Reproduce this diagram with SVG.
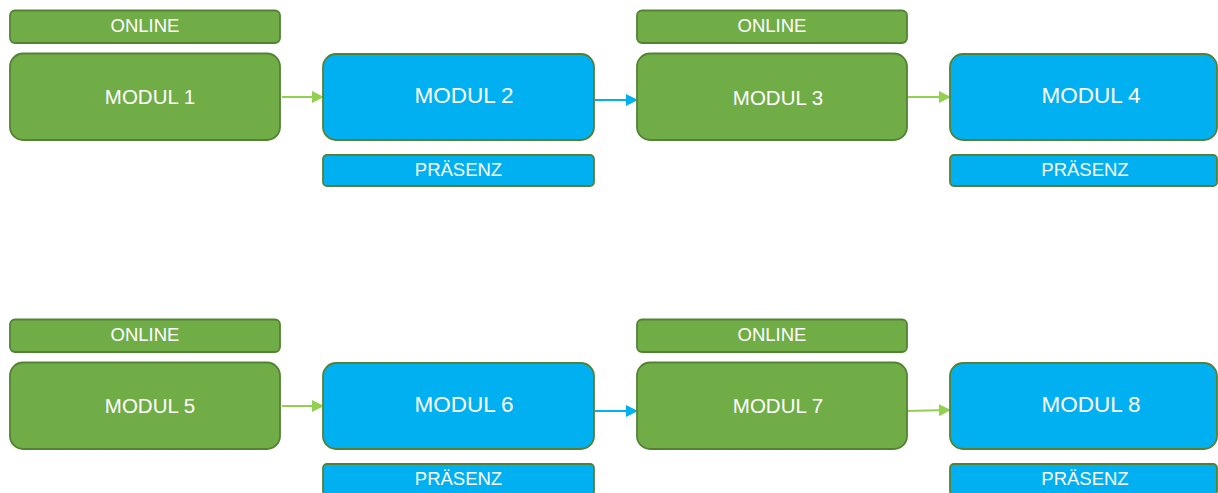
<svg xmlns="http://www.w3.org/2000/svg" width="1218" height="493" viewBox="0 0 1218 493">
<style>
.g{fill:#70AD47;stroke:#548235;stroke-width:1.8}
.b{fill:#00B0F0;stroke:#548235;stroke-width:1.8}
.t{fill:#fff;font-family:"Liberation Sans",Arial,sans-serif;text-anchor:middle;dominant-baseline:central}
.big{font-size:20.5px}
.bb{font-size:22.5px}
.sm{font-size:18.5px}
.ag{stroke:#92D050;stroke-width:2;fill:none;marker-end:url(#mg)}
.ab{stroke:#00B0F0;stroke-width:2;fill:none;marker-end:url(#mb)}
</style>
<defs>
<marker id="mg" markerWidth="6" markerHeight="6" refX="5" refY="3" orient="auto" markerUnits="strokeWidth"><path d="M0,0 L6,3 L0,6 z" fill="#92D050"/></marker>
<marker id="mb" markerWidth="6" markerHeight="6" refX="5" refY="3" orient="auto" markerUnits="strokeWidth"><path d="M0,0 L6,3 L0,6 z" fill="#00B0F0"/></marker>
</defs>
<rect width="1218" height="493" fill="#fff"/>
<g id="connectors">
<path class="ag" d="M282,97 L322,97"/>
<path class="ab" d="M595,100 L636,100"/>
<path class="ag" d="M908,97 L949,97"/>
<path class="ag" d="M282,406 L322,406"/>
<path class="ab" d="M595,411 L636,411"/>
<path class="ag" d="M905,411 L949,410"/>
</g>
<g id="online1"><rect class="g" x="10" y="10.5" width="270" height="32.5" rx="5"/><text class="t sm" x="145" y="25.5">ONLINE</text></g>
<g id="modul1"><rect class="g" x="10" y="53.5" width="270" height="86.5" rx="13"/><text class="t big" x="150" y="96.5">MODUL 1</text></g>
<g id="modul2"><rect class="b" x="323" y="54" width="271" height="86" rx="13"/><text class="t bb" x="464" y="95.5">MODUL 2</text></g>
<g id="praesenz2"><rect class="b" x="323" y="155" width="271" height="31" rx="4"/><text class="t sm" x="458.5" y="169.5">PRÄSENZ</text></g>
<g id="online3"><rect class="g" x="637" y="10.5" width="270" height="32.5" rx="5"/><text class="t sm" x="772" y="25.5">ONLINE</text></g>
<g id="modul3"><rect class="g" x="637" y="53.5" width="270" height="86.5" rx="13"/><text class="t big" x="778" y="97.5">MODUL 3</text></g>
<g id="modul4"><rect class="b" x="950" y="54" width="267" height="86" rx="13"/><text class="t bb" x="1091" y="95.5">MODUL 4</text></g>
<g id="praesenz4"><rect class="b" x="950" y="155" width="267" height="31" rx="4"/><text class="t sm" x="1085" y="169.5">PRÄSENZ</text></g>
<g id="online5"><rect class="g" x="10" y="319.5" width="270" height="32.5" rx="5"/><text class="t sm" x="145" y="334.5">ONLINE</text></g>
<g id="modul5"><rect class="g" x="10" y="362.5" width="270" height="86.5" rx="13"/><text class="t big" x="150" y="405.5">MODUL 5</text></g>
<g id="modul6"><rect class="b" x="323" y="363" width="271" height="86" rx="13"/><text class="t bb" x="464" y="404.5">MODUL 6</text></g>
<g id="praesenz6"><rect class="b" x="323" y="464" width="271" height="31" rx="4"/><text class="t sm" x="458.5" y="478.5">PRÄSENZ</text></g>
<g id="online7"><rect class="g" x="637" y="319.5" width="270" height="32.5" rx="5"/><text class="t sm" x="772" y="334.5">ONLINE</text></g>
<g id="modul7"><rect class="g" x="637" y="362.5" width="270" height="86.5" rx="13"/><text class="t big" x="778" y="405.5">MODUL 7</text></g>
<g id="modul8"><rect class="b" x="950" y="363" width="267" height="86" rx="13"/><text class="t bb" x="1091" y="404.5">MODUL 8</text></g>
<g id="praesenz8"><rect class="b" x="950" y="464" width="267" height="31" rx="4"/><text class="t sm" x="1085" y="478.5">PRÄSENZ</text></g>
</svg>
